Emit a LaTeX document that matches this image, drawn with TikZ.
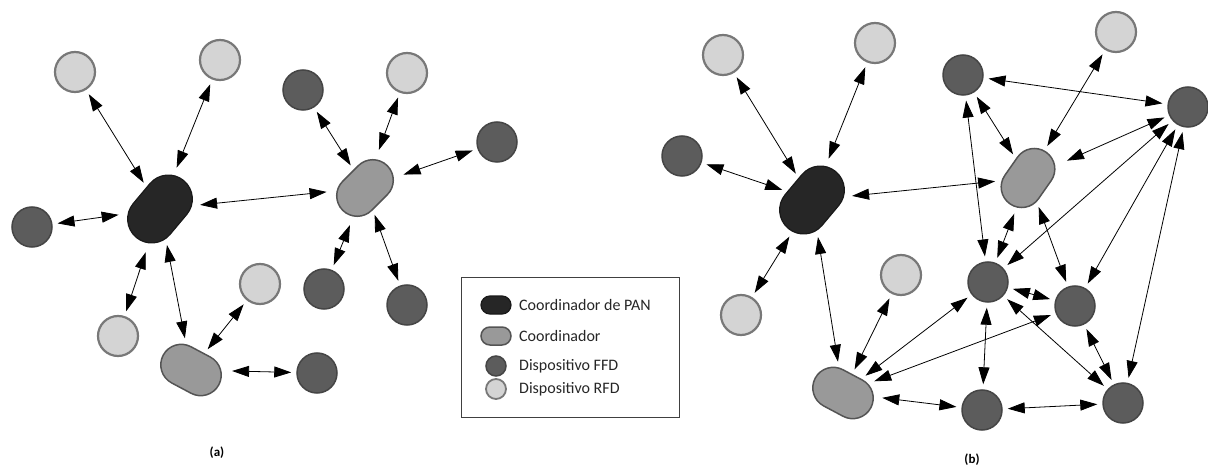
\documentclass[tikz,border=0pt]{standalone}
\usepackage{fontspec}
\setmainfont{Carlito}
\usetikzlibrary{arrows.meta}
\definecolor{panfill}{gray}{0.15}
\definecolor{panline}{gray}{0.1}
\definecolor{crdfill}{gray}{0.6}
\definecolor{crdline}{gray}{0.33}
\definecolor{ffdfill}{gray}{0.36}
\definecolor{ffdline}{gray}{0.27}
\definecolor{rfdfill}{gray}{0.83}
\definecolor{rfdline}{gray}{0.47}
\begin{document}
\begin{tikzpicture}[x=1pt,y=-1pt]
\tikzstyle{every node}+=[inner sep=0pt]
\tikzstyle{ffd}=[circle,draw=ffdline,fill=ffdfill,line width=1.5pt,minimum size=40pt]
\tikzstyle{rfd}=[circle,draw=rfdline,fill=rfdfill,line width=2.2pt,minimum size=40pt]
\tikzstyle{crd}=[rectangle,draw=crdline,fill=crdfill,line width=1.5pt,minimum width=63pt,minimum height=41pt,rounded corners=20.5pt]
\tikzstyle{pancrd}=[rectangle,draw=panline,fill=panfill,line width=1.2pt,minimum width=74pt,minimum height=48pt,rounded corners=24pt]
\tikzstyle{link}=[{Triangle[length=17pt,width=11pt]}-{Triangle[length=17pt,width=11pt]},line width=0.8pt,shorten >=5pt,shorten <=5pt]
\tikzstyle{legtext}=[anchor=west,text=black!85,font=\fontsize{16}{19}\selectfont]
\useasboundingbox (0,0) rectangle (1208,465);
\node [pancrd,rotate=50] (aP) at (160,209) {};
\node [crd,rotate=45] (aC1) at (365,188) {};
\node [crd,rotate=-28] (aC2) at (191,370) {};
\node [rfd] (aR1) at (75,72) {};
\node [rfd] (aR2) at (220,60) {};
\node [ffd] (aF1) at (32,227) {};
\node [rfd] (aR3) at (118,336) {};
\node [rfd] (aR4) at (260,284) {};
\node [ffd] (aF2) at (317,373) {};
\node [ffd] (aF3) at (303,90) {};
\node [rfd] (aR5) at (407,73) {};
\node [ffd] (aF4) at (497,142) {};
\node [ffd] (aF5) at (324,289) {};
\node [ffd] (aF6) at (407,305) {};
\draw [link] (aP) -- (aR1);
\draw [link] (aP) -- (aR2);
\draw [link] (aP) -- (aF1);
\draw [link] (aP) -- (aR3);
\draw [link] (aP) -- (aC2);
\draw [link] (aP) -- (aC1);
\draw [link] (aC2) -- (aR4);
\draw [link] (aC2) -- (aF2);
\draw [link] (aC1) -- (aF3);
\draw [link] (aC1) -- (aR5);
\draw [link] (aC1) -- (aF4);
\draw [link] (aC1) -- (aF5);
\draw [link] (aC1) -- (aF6);
\node [font=\fontsize{13}{15}\selectfont\bfseries] (la) at (217,453) {(a)};
\node [draw=black!75,line width=0.8pt,minimum width=218pt,minimum height=140pt] (legend) at (570,347) {};
\node [pancrd,minimum width=30pt,minimum height=18pt,rounded corners=9pt] (lP) at (496,305) {};
\node [legtext] (ltP) at (519,305) {Coordinador de PAN};
\node [crd,minimum width=30pt,minimum height=18pt,rounded corners=9pt] (lC) at (496,336) {};
\node [legtext] (ltC) at (519,336) {Coordinador};
\node [ffd,minimum size=20pt] (lF) at (496,366) {};
\node [legtext] (ltF) at (519,366) {Dispositivo FFD};
\node [rfd,minimum size=20pt,line width=1.8pt] (lR) at (496,389) {};
\node [legtext] (ltR) at (519,389) {Dispositivo RFD};
\node [pancrd,rotate=50] (bP) at (812,200) {};
\node [crd,rotate=55] (bC1) at (1028,178) {};
\node [crd,rotate=-28] (bC2) at (843,393) {};
\node [rfd] (bR1) at (723,55) {};
\node [rfd] (bR2) at (875,43) {};
\node [ffd] (bF1) at (682,156) {};
\node [rfd] (bR3) at (741,315) {};
\node [rfd] (bR4) at (901,275) {};
\node [ffd] (bF2) at (963,75) {};
\node [rfd] (bR5) at (1116,32) {};
\node [ffd] (bF3) at (1188,107) {};
\node [ffd] (bF4) at (988,282) {};
\node [ffd] (bF5) at (1075,306) {};
\node [ffd] (bF6) at (982,410) {};
\node [ffd] (bF7) at (1123,403) {};
\draw [link] (bP) -- (bR1);
\draw [link] (bP) -- (bR2);
\draw [link] (bP) -- (bF1);
\draw [link] (bP) -- (bR3);
\draw [link] (bP) -- (bC2);
\draw [link] (bP) -- (bC1);
\draw [link] (bC2) -- (bR4);
\draw [link] (bC2) -- (bF6);
\draw [link] (bC2) -- (bF4);
\draw [link] (bC2) -- (bF5);
\draw [link] (bC1) -- (bF2);
\draw [link] (bC1) -- (bR5);
\draw [link] (bC1) -- (bF3);
\draw [link] (bC1) -- (bF4);
\draw [link] (bC1) -- (bF5);
\draw [link] (bF2) -- (bF3);
\draw [link] (bF2) -- (bF4);
\draw [link] (bF3) -- (bF4);
\draw [link] (bF3) -- (bF5);
\draw [link] (bF3) -- (bF7);
\draw [link] (bF4) -- (bF5);
\draw [link] (bF4) -- (bF6);
\draw [link] (bF4) -- (bF7);
\draw [link] (bF5) -- (bF7);
\draw [link] (bF6) -- (bF7);
\node [font=\fontsize{13}{15}\selectfont\bfseries] (lb) at (972,460) {(b)};
\end{tikzpicture}
\end{document}
